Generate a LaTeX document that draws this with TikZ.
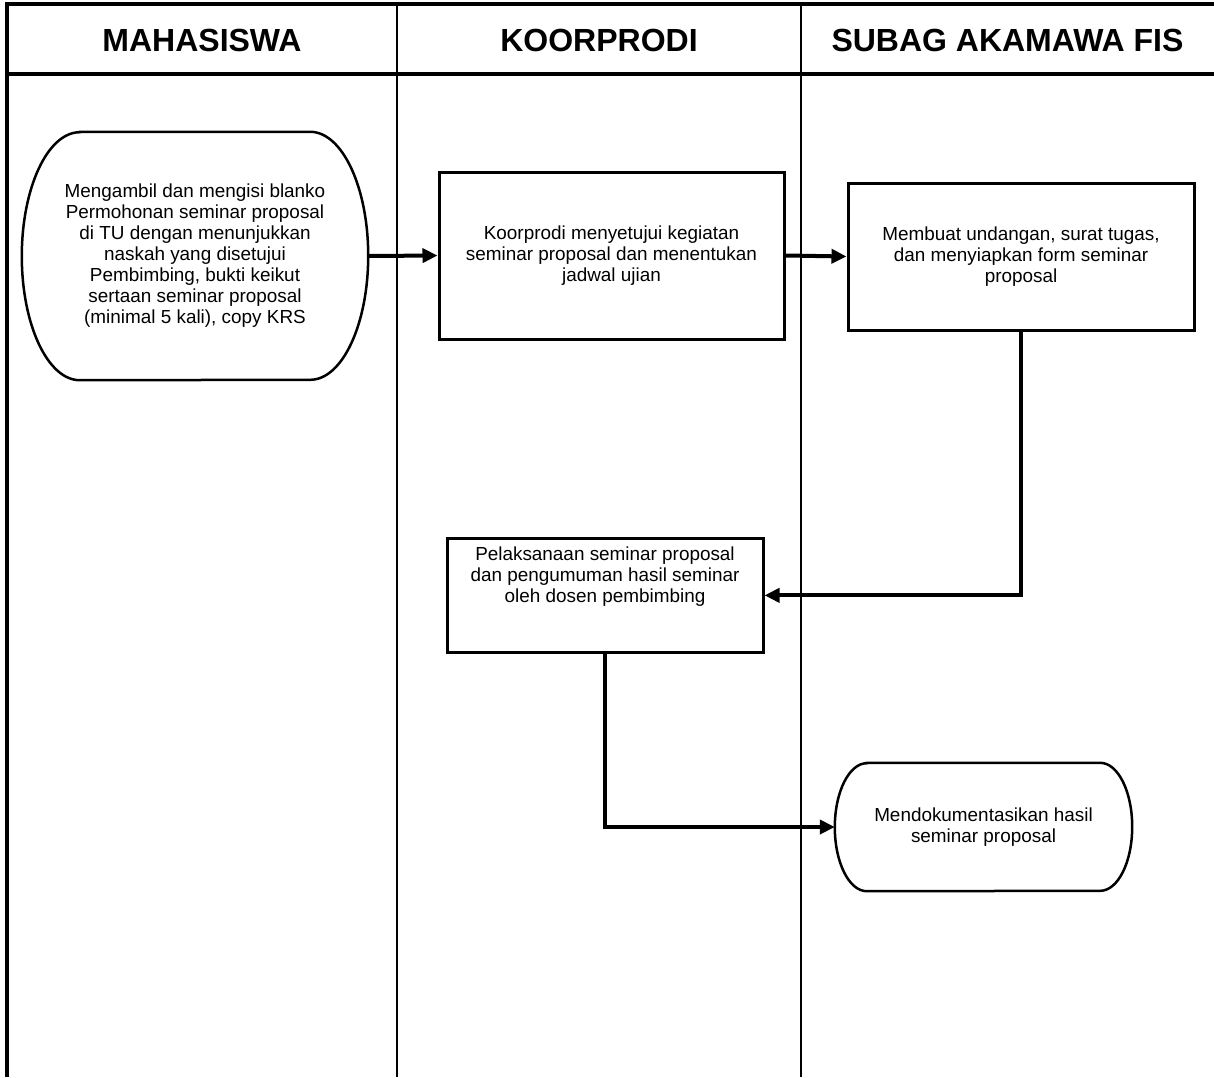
\documentclass[tikz,border=0pt]{standalone}
\usepackage{fontspec}
\setmainfont{Liberation Sans}
\usetikzlibrary{arrows.meta}

\tikzset{
  bingkai/.style={line width=3.5pt},
  lajur/.style={line width=2.5pt},
  judul/.style={font=\fontsize{32}{36}\selectfont\bfseries},
  proses/.style={draw, line width=3pt, align=center, inner sep=8pt,
    font=\fontsize{18.9}{21}\selectfont},
  terminal/.style={align=center, inner sep=8pt,
    font=\fontsize{18.9}{21}\selectfont},
  garisterminal/.style={line width=2.5pt},
  alur/.style={-{Triangle[length=15pt,width=14pt]}, line width=4pt},
}

\begin{document}
\begin{tikzpicture}[x=1pt,y=-1pt]
  \useasboundingbox (0,0) rectangle (1214,1077);

  % lajur
  \draw[bingkai] (7,1077) -- (7,4) -- (1214,4);
  \draw[bingkai] (7,74) -- (1214,74);
  \draw[lajur] (397,4) -- (397,1077);
  \draw[lajur] (801,4) -- (801,1077);

  \node[judul] (mhs) at (202,40) {MAHASISWA};
  \node[judul] (kprodi) at (599,40) {KOORPRODI};
  \node[judul] (subag) at (1007.5,40) {SUBAG AKAMAWA FIS};

  % langkah
  \node[terminal, minimum width=346pt, minimum height=248pt] (ambil) at (195,256)
    {Mengambil dan mengisi blanko\\ Permohonan seminar proposal\\
     di TU dengan menunjukkan\\ naskah yang disetujui\\
     Pembimbing, bukti keikut\\ sertaan seminar proposal\\
     (minimal 5 kali), copy KRS};
  \draw[garisterminal] ([xshift=58pt]ambil.north west) -- ([xshift=-58pt]ambil.north east)
    arc[start angle=90, end angle=-90, x radius=58pt, y radius=124pt]
    -- ([xshift=58pt]ambil.south west)
    arc[start angle=270, end angle=90, x radius=58pt, y radius=124pt] -- cycle;

  \node[proses, minimum width=345pt, minimum height=167pt] (setuju) at (611.5,255.5)
    {Koorprodi menyetujui kegiatan\\ seminar proposal dan menentukan\\ jadwal ujian};
  \node[proses, minimum width=346pt, minimum height=147pt] (undangan) at (1021,256.5)
    {Membuat undangan, surat tugas,\\ dan menyiapkan form seminar\\ proposal};
  \node[proses, minimum width=316pt, anchor=north] (laksana) at (605,537)
    {Pelaksanaan seminar proposal\\ dan pengumuman hasil seminar\\
     oleh dosen pembimbing\rule[-42pt]{0pt}{1pt}};

  \node[terminal, minimum width=297pt, minimum height=128pt] (dokumen) at (983.5,827)
    {Mendokumentasikan hasil\\ seminar proposal};
  \draw[garisterminal] ([xshift=32pt]dokumen.north west) -- ([xshift=-32pt]dokumen.north east)
    arc[start angle=90, end angle=-90, x radius=32pt, y radius=64pt]
    -- ([xshift=32pt]dokumen.south west)
    arc[start angle=270, end angle=90, x radius=32pt, y radius=64pt] -- cycle;

  % alur
  \draw[alur] (ambil.east) -- (setuju.west);
  \draw[alur] (setuju.east) -- (undangan.west);
  \draw[alur] (undangan.south) |- (laksana.east);
  \draw[alur] (laksana.south) |- (dokumen.west);
\end{tikzpicture}
\end{document}
